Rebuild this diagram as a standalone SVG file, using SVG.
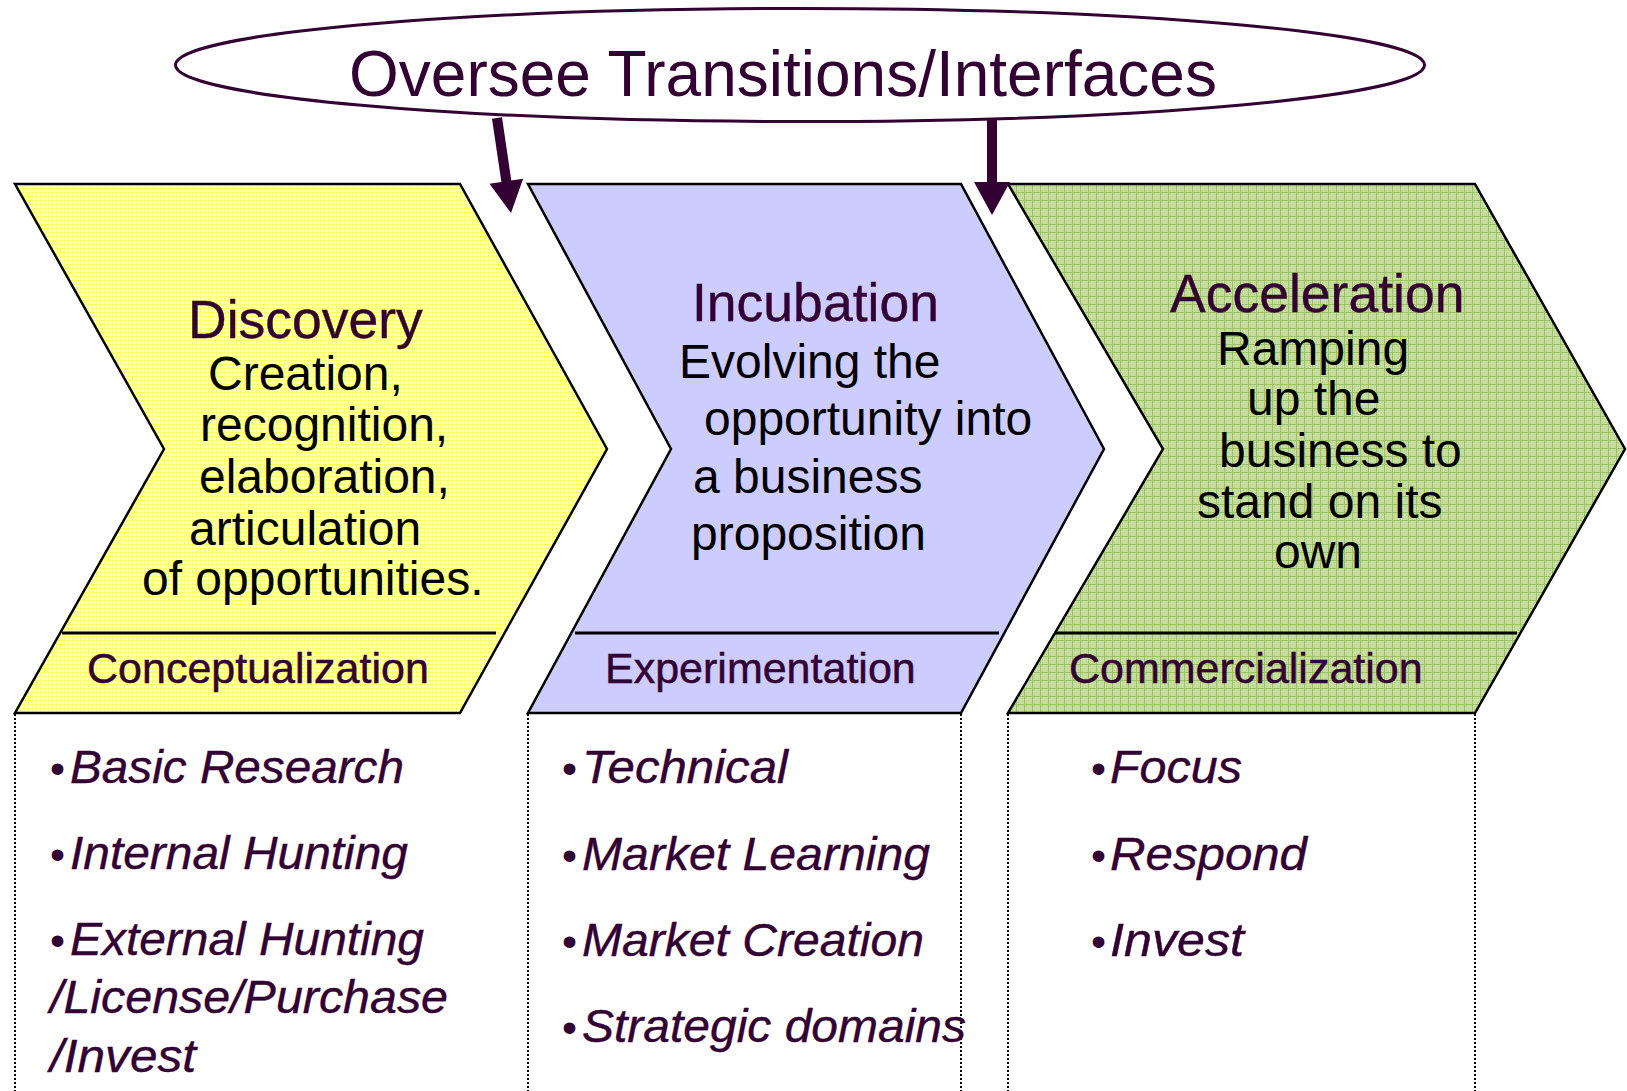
<svg xmlns="http://www.w3.org/2000/svg" width="1627" height="1091" viewBox="0 0 1627 1091">
<defs>
<pattern id="pYellow" width="4" height="4" patternUnits="userSpaceOnUse">
<rect width="4" height="4" fill="#FFFFC0"/>
<path d="M0 0.5H4M0.5 0V4" stroke="#FFFF70" stroke-width="1"/>
</pattern>
<pattern id="pGreen" width="8" height="8" patternUnits="userSpaceOnUse">
<rect width="8" height="8" fill="#C6DD9F"/>
<path d="M0 0.5H8M0.5 0V8" stroke="#9BC366" stroke-width="1"/>
<path d="M2 2h1v1h-1zM6 6h1v1h-1zM2 6h1v1h-1zM6 2h1v1h-1z" fill="#B3D286"/>
</pattern>
</defs>
<style>
text { font-family: "Liberation Sans", Arial, sans-serif; }
.chev { stroke: #000; stroke-width: 2.5; stroke-linejoin: miter; }
.div { stroke: #000; stroke-width: 3; }
.dot { stroke: #000; stroke-width: 2; stroke-dasharray: 2 2; fill: none; }
.ttl { font-size: 53.5px; fill: #330033; stroke: #330033; stroke-width: 0.4; }
.body { font-size: 48px; fill: #000; }
.sub { font-size: 43px; fill: #330033; stroke: #330033; stroke-width: 0.5; }
.bul { font-size: 46px; fill: #330033; font-style: italic; stroke: #330033; stroke-width: 0.4; }
.bdot { font-size: 43px; fill: #330033; }
.arrow { fill: #330033; }
</style>
<rect width="1627" height="1091" fill="#fff"/>

<g id="oversee">
<ellipse cx="800" cy="65" rx="624.5" ry="56.5" fill="#fff" stroke="#330033" stroke-width="3"/>
<text x="349" y="96" font-size="64" fill="#330033">Oversee Transitions/Interfaces</text>
</g>

<g id="discovery">
<polygon class="chev" fill="url(#pYellow)" points="15,184 460,184 607,449 460,713 15,713 164,449"/>
<line class="div" x1="62" y1="633" x2="496" y2="633"/>
<text class="ttl" x="188" y="338">Discovery</text>
<text class="body" x="208" y="390">Creation,</text>
<text class="body" x="200" y="441">recognition,</text>
<text class="body" x="199" y="493">elaboration,</text>
<text class="body" x="189" y="545">articulation</text>
<text class="body" x="142" y="595">of opportunities.</text>
<text class="sub" x="87" y="683">Conceptualization</text>
</g>

<g id="incubation">
<polygon class="chev" fill="#CCCCFF" points="528,184 961,184 1104,449 961,713 528,713 671,449"/>
<line class="div" x1="575" y1="633" x2="999" y2="633"/>
<text class="ttl" x="692" y="321">Incubation</text>
<text class="body" x="679" y="378">Evolving the</text>
<text class="body" x="704" y="435">opportunity into</text>
<text class="body" x="693" y="493">a business</text>
<text class="body" x="691" y="550">proposition</text>
<text class="sub" x="605" y="683">Experimentation</text>
</g>

<g id="acceleration">
<polygon class="chev" fill="url(#pGreen)" points="1008,184 1475,184 1625,449 1475,713 1008,713 1163,449"/>
<line class="div" x1="1055" y1="633" x2="1517" y2="633"/>
<text class="ttl" x="1170" y="312">Acceleration</text>
<text class="body" x="1217" y="365">Ramping</text>
<text class="body" x="1247" y="415">up the</text>
<text class="body" x="1219" y="467">business to</text>
<text class="body" x="1197" y="518">stand on its</text>
<text class="body" x="1274" y="568">own</text>
<text class="sub" x="1069" y="683">Commercialization</text>
</g>

<g id="conceptualization-list">
<line class="dot" x1="15" y1="714" x2="15" y2="1091"/>
<text class="bdot" x="50" y="783">•</text>
<text class="bul" x="70" y="783" textLength="334" lengthAdjust="spacingAndGlyphs">Basic Research</text>
<text class="bdot" x="50" y="869">•</text>
<text class="bul" x="70" y="869" textLength="338" lengthAdjust="spacingAndGlyphs">Internal Hunting</text>
<text class="bdot" x="50" y="955">•</text>
<text class="bul" x="70" y="955" textLength="354" lengthAdjust="spacingAndGlyphs">External Hunting</text>
<text class="bul" x="50" y="1013" textLength="398" lengthAdjust="spacingAndGlyphs">/License/Purchase</text>
<text class="bul" x="50" y="1072" textLength="146" lengthAdjust="spacingAndGlyphs">/Invest</text>
</g>

<g id="experimentation-list">
<line class="dot" x1="528" y1="714" x2="528" y2="1091"/>
<line class="dot" x1="961" y1="714" x2="961" y2="1091"/>
<text class="bdot" x="562" y="783">•</text>
<text class="bul" x="582" y="783" textLength="206" lengthAdjust="spacingAndGlyphs">Technical</text>
<text class="bdot" x="562" y="870">•</text>
<text class="bul" x="582" y="870" textLength="348" lengthAdjust="spacingAndGlyphs">Market Learning</text>
<text class="bdot" x="562" y="956">•</text>
<text class="bul" x="582" y="956" textLength="342" lengthAdjust="spacingAndGlyphs">Market Creation</text>
<text class="bdot" x="562" y="1042">•</text>
<text class="bul" x="582" y="1042" textLength="384" lengthAdjust="spacingAndGlyphs">Strategic domains</text>
</g>

<g id="commercialization-list">
<line class="dot" x1="1008" y1="714" x2="1008" y2="1091"/>
<line class="dot" x1="1475" y1="714" x2="1475" y2="1091"/>
<text class="bdot" x="1091" y="783">•</text>
<text class="bul" x="1110" y="783" textLength="132" lengthAdjust="spacingAndGlyphs">Focus</text>
<text class="bdot" x="1091" y="870">•</text>
<text class="bul" x="1110" y="870" textLength="197" lengthAdjust="spacingAndGlyphs">Respond</text>
<text class="bdot" x="1091" y="956">•</text>
<text class="bul" x="1110" y="956" textLength="134" lengthAdjust="spacingAndGlyphs">Invest</text>
</g>

<g id="connectors">
<polygon class="arrow" points="492,118.7 502,117.3 511.3,180.6 523.1,178.8 511,213 489.5,183.8 501.4,182"/>
<polygon class="arrow" points="987,119 997,119 997,182 1010,182 992,215 974,182 987,182"/>
</g>
</svg>
